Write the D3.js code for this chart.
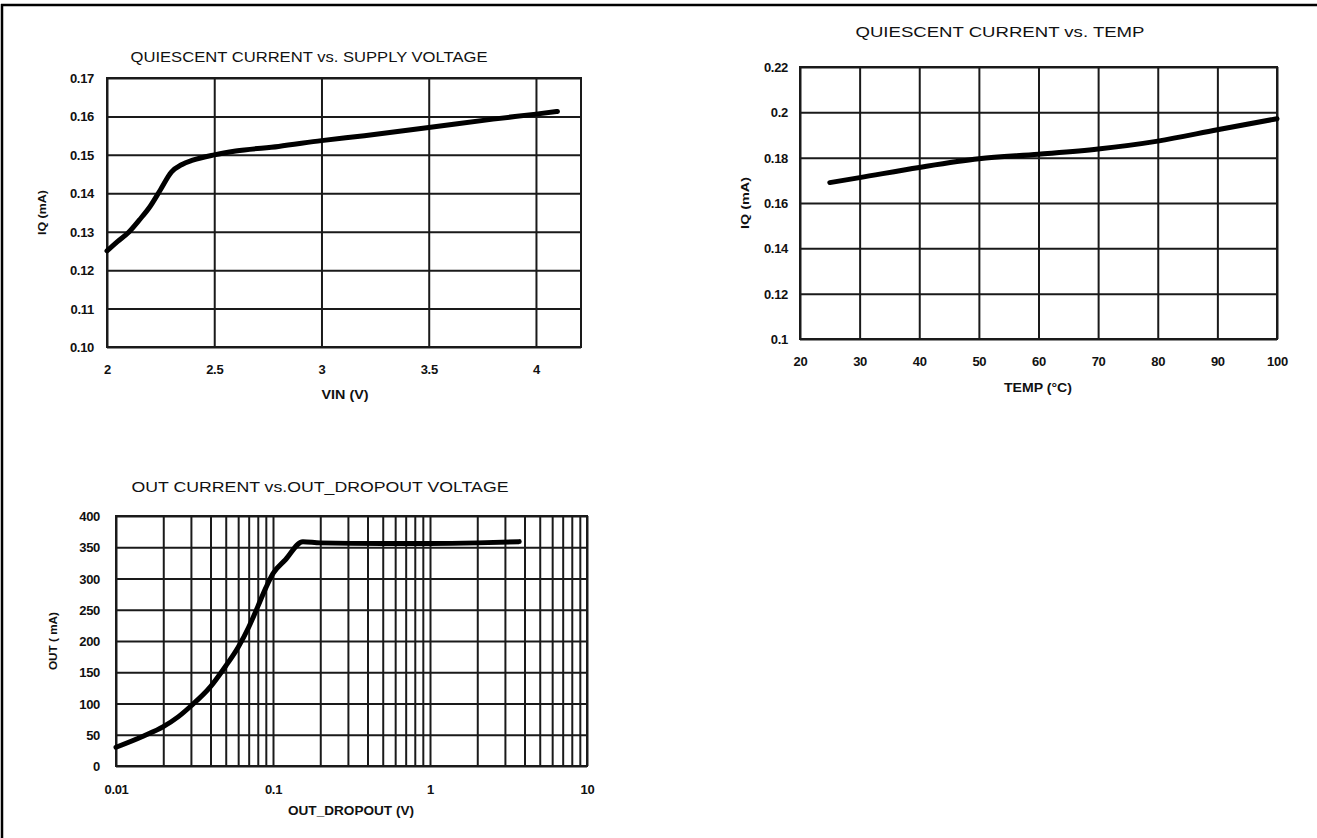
<!DOCTYPE html>
<html>
<head>
<meta charset="utf-8">
<script src="https://cdn.jsdelivr.net/npm/d3@7"></script>
<style>
  html, body { margin: 0; padding: 0; background: #fff; }
  svg { display: block; }
  text { font-family: "Liberation Sans", Arial, sans-serif; fill: #111; }
</style>
</head>
<body>
<svg id="c" width="1317" height="838"></svg>
<script>
// ---- Data: Quiescent current vs supply voltage ----
const vinV   = [2.0, 2.05, 2.1, 2.15, 2.2, 2.25, 2.3, 2.35, 2.4, 2.5, 2.6, 2.8, 3.0, 3.2, 3.5, 3.8, 4.0, 4.1];
const iqVin  = [0.1250, 0.1275, 0.1298, 0.1330, 0.1365, 0.1410, 0.1455, 0.1475, 0.1486, 0.1500, 0.1510, 0.1522, 0.1537, 0.1550, 0.1571, 0.1593, 0.1606, 0.1613];
const vinTicks   = [2, 2.5, 3, 3.5, 4];
const iqVinTicks = [0.10, 0.11, 0.12, 0.13, 0.14, 0.15, 0.16, 0.17];

// ---- Data: Quiescent current vs temperature ----
const tempC   = [25, 30, 40, 50, 60, 70, 80, 90, 100];
const iqTemp  = [0.1690, 0.1712, 0.1757, 0.1795, 0.1815, 0.1838, 0.1873, 0.1923, 0.1972];
const tempTicks   = [20, 30, 40, 50, 60, 70, 80, 90, 100];
const iqTempTicks = [0.1, 0.12, 0.14, 0.16, 0.18, 0.2, 0.22];

// ---- Data: Out current vs dropout voltage ----
const dropV = [0.01, 0.015, 0.02, 0.025, 0.03, 0.04, 0.05, 0.06, 0.07, 0.08, 0.09, 0.1, 0.12, 0.155, 0.2, 0.5, 1, 2, 3.7];
const iOut  = [30, 48, 63, 79, 96, 127, 160, 190, 222, 255, 285, 308, 330, 359, 357, 356, 356, 357, 359];
const dropTicks = [0.01, 0.1, 1, 10];
const iOutTicks = [0, 50, 100, 150, 200, 250, 300, 350, 400];

const svg = d3.select('#c');

// page frame (left and top rules)
svg.append('line').attr('x1', 2).attr('x2', 2).attr('y1', 4).attr('y2', 838)
  .attr('stroke', '#000').attr('stroke-width', 2.5);
svg.append('line').attr('x1', 1).attr('x2', 1317).attr('y1', 5).attr('y2', 5)
  .attr('stroke', '#000').attr('stroke-width', 2.5);

function drawChart(o) {
  const g = svg.append('g');
  const x = o.x.range([o.left, o.right]);
  const y = o.y.range([o.bottom, o.top]);
  const w = o.right - o.left, h = o.bottom - o.top;

  // vertical grid
  g.append('g').attr('transform', `translate(0,${o.bottom})`)
    .call(d3.axisBottom(x).tickValues(o.xGrid).tickSize(-h).tickFormat(''))
    .call(s => s.select('.domain').remove())
    .call(s => s.selectAll('line').attr('stroke', '#1a1a1a').attr('stroke-width', 2));
  // horizontal grid
  g.append('g').attr('transform', `translate(${o.left},0)`)
    .call(d3.axisLeft(y).tickValues(o.yGrid).tickSize(-w).tickFormat(''))
    .call(s => s.select('.domain').remove())
    .call(s => s.selectAll('line').attr('stroke', '#1a1a1a').attr('stroke-width', 2));
  // frame
  g.append('rect').attr('x', o.left).attr('y', o.top).attr('width', w).attr('height', h)
    .attr('fill', 'none').attr('stroke', '#1a1a1a').attr('stroke-width', 2);

  // x tick labels
  g.append('g').attr('transform', `translate(0,${o.bottom})`)
    .call(d3.axisBottom(x).tickValues(o.xTicks).tickSize(0).tickFormat(o.xFmt))
    .call(s => s.select('.domain').remove())
    .call(s => s.selectAll('text').attr('y', o.xLabOff).attr('dy', '0.35em')
      .style('font-size', '13px').style('font-weight', 'bold').style('letter-spacing', '-0.3px')
      .attr('fill', '#111'));
  // y tick labels
  g.append('g').attr('transform', `translate(${o.left},0)`)
    .call(d3.axisLeft(y).tickValues(o.yTicks).tickSize(0).tickFormat(o.yFmt))
    .call(s => s.select('.domain').remove())
    .call(s => s.selectAll('text').attr('x', -o.yLabOff).attr('dy', '0.35em')
      .style('font-size', '13px').style('font-weight', 'bold').style('letter-spacing', '-0.3px')
      .attr('fill', '#111'));

  // curve
  const pts = o.xs.map((v, i) => [v, o.ys[i]]);
  g.append('path').datum(pts)
    .attr('d', d3.line().x(d => x(d[0])).y(d => y(d[1])).curve(d3.curveMonotoneX))
    .attr('fill', 'none').attr('stroke', '#000').attr('stroke-width', 5)
    .attr('stroke-linecap', 'round').attr('stroke-linejoin', 'round');

  // title
  g.append('text').attr('x', o.titleX).attr('y', o.titleY).attr('dy', '0.35em')
    .attr('text-anchor', 'middle').style('font-size', '15px')
    .attr('textLength', o.titleW).attr('lengthAdjust', 'spacingAndGlyphs')
    .text(o.title);
  // x axis label
  g.append('text').attr('x', o.xTitleX).attr('y', o.xTitleY).attr('dy', '0.35em')
    .attr('text-anchor', 'middle').style('font-size', '12px').style('font-weight', 'bold')
    .attr('textLength', o.xTitleW).attr('lengthAdjust', 'spacingAndGlyphs')
    .text(o.xTitle);
  // y axis label
  g.append('text')
    .attr('transform', `translate(${o.yTitleX},${(o.top + o.bottom) / 2}) rotate(-90)`)
    .attr('dy', '0.35em').attr('text-anchor', 'middle')
    .style('font-size', '11px').style('font-weight', 'bold')
    .attr('textLength', o.yTitleW).attr('lengthAdjust', 'spacingAndGlyphs')
    .text(o.yTitle);
}

drawChart({
  x: d3.scaleLinear().domain([2, 4.21]), y: d3.scaleLinear().domain([0.10, 0.17]),
  left: 107, right: 581, top: 78, bottom: 347,
  xGrid: vinTicks, yGrid: iqVinTicks, xTicks: vinTicks, yTicks: iqVinTicks,
  xFmt: d3.format(''), yFmt: d3.format('.2f'),
  xLabOff: 22, yLabOff: 13,
  xs: vinV, ys: iqVin,
  title: 'QUIESCENT CURRENT vs. SUPPLY VOLTAGE', titleX: 309, titleY: 57, titleW: 357,
  xTitle: 'VIN (V)', xTitleX: 345, xTitleY: 395, xTitleW: 47,
  yTitle: 'IQ (mA)', yTitleX: 42, yTitleW: 45
});

drawChart({
  x: d3.scaleLinear().domain([20, 100]), y: d3.scaleLinear().domain([0.1, 0.22]),
  left: 800, right: 1277, top: 67, bottom: 339,
  xGrid: tempTicks, yGrid: iqTempTicks, xTicks: tempTicks, yTicks: iqTempTicks,
  xFmt: d3.format(''), yFmt: d3.format('~g'),
  xLabOff: 22, yLabOff: 12,
  xs: tempC, ys: iqTemp,
  title: 'QUIESCENT CURRENT vs. TEMP', titleX: 1000, titleY: 32, titleW: 289,
  xTitle: 'TEMP (\u00B0C)', xTitleX: 1038, xTitleY: 388, xTitleW: 68,
  yTitle: 'IQ (mA)', yTitleX: 745, yTitleW: 52
});

const xLog = d3.scaleLog().domain([0.01, 10]);
drawChart({
  x: xLog, y: d3.scaleLinear().domain([0, 400]),
  left: 116, right: 587, top: 516, bottom: 766,
  xGrid: xLog.ticks(), yGrid: iOutTicks, xTicks: dropTicks, yTicks: iOutTicks,
  xFmt: d3.format('~g'), yFmt: d3.format('d'),
  xLabOff: 23, yLabOff: 16,
  xs: dropV, ys: iOut,
  title: 'OUT CURRENT vs.OUT_DROPOUT VOLTAGE', titleX: 320, titleY: 487, titleW: 377,
  xTitle: 'OUT_DROPOUT  (V)', xTitleX: 351, xTitleY: 811, xTitleW: 126,
  yTitle: 'OUT ( mA)', yTitleX: 53, yTitleW: 58
});
</script>
</body>
</html>
